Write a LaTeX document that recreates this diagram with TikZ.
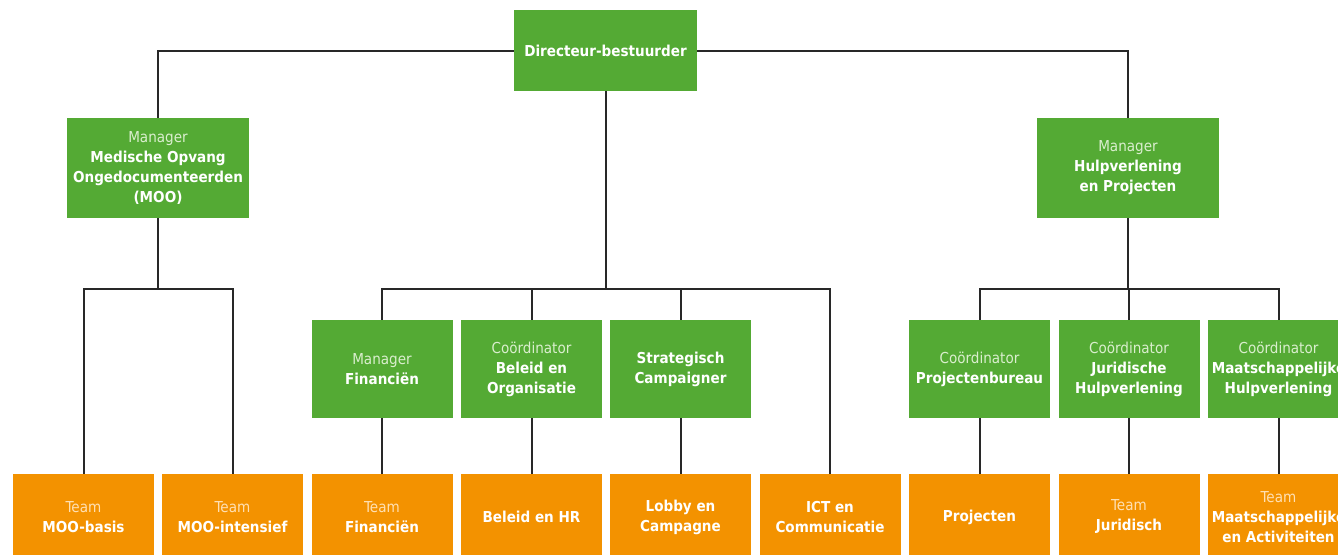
\documentclass[tikz,border=0pt]{standalone}
\usepackage{fontspec}
\setmainfont{DejaVu Sans Condensed}
\usepackage{xcolor}

\definecolor{boxgreen}{RGB}{84,170,52}
\definecolor{boxorange}{RGB}{243,146,0}
\definecolor{linegray}{RGB}{40,40,40}
\definecolor{litegreen}{RGB}{218,238,206}
\definecolor{liteorange}{RGB}{255,224,180}

\newcommand{\glite}[1]{{\mdseries\color{litegreen}#1}}
\newcommand{\olite}[1]{{\mdseries\color{liteorange}#1}}

\begin{document}
\begin{tikzpicture}[x=0.75pt,y=-0.75pt,
    every node/.style={align=center,text=white,font=\fontsize{11.3}{15}\selectfont\bfseries,inner sep=0pt},
    gbox/.style={fill=boxgreen,minimum width=105.75pt,minimum height=73.5pt},
    obox/.style={fill=boxorange,minimum width=105.75pt,minimum height=64.5pt},
    mbox/.style={fill=boxgreen,minimum width=136.5pt,minimum height=75pt},
    link/.style={draw=linegray,line width=1.5pt}]
            		\useasboundingbox (0,0) rectangle (1338,554);
            		\clip (0,0) rectangle (1338,554);

            		% top levels
            		\node (dir) at (605.5,50.5) [fill=boxgreen,minimum width=137.25pt,minimum height=60.75pt] {Directeur-bestuurder};
            		\node (moo) at (158,168) [mbox] {\glite{Manager}\\Medische Opvang\\Ongedocumenteerden\\(MOO)};
            		\node (hulp) at (1128,168) [mbox] {\glite{Manager}\\Hulpverlening\\en Projecten};

            		% middle row
            		\node (mfin) at (382,369) [gbox] {\glite{Manager}\\Financiën};
            		\node (cbel) at (531.5,369) [gbox] {\glite{Coördinator}\\Beleid en\\Organisatie};
            		\node (scamp) at (680.5,369) [gbox] {Strategisch\\Campaigner};
            		\node (cproj) at (979.5,369) [gbox] {\glite{Coördinator}\\Projectenbureau};
            		\node (cjur) at (1129,369) [gbox] {\glite{Coördinator}\\Juridische\\Hulpverlening};
            		\node (cmaat) at (1278.5,369) [gbox] {\glite{Coördinator}\\Maatschappelijke\\Hulpverlening};

            		% teams
            		\node (tbasis) at (83.5,517) [obox] {\olite{Team}\\MOO-basis};
            		\node (tint) at (232.5,517) [obox] {\olite{Team}\\MOO-intensief};
            		\node (tfin) at (382,517) [obox] {\olite{Team}\\Financiën};
            		\node (tbhr) at (531.5,517) [obox] {Beleid en HR};
            		\node (tlob) at (680.5,517) [obox] {Lobby en\\Campagne};
            		\node (tict) at (830,517) [obox] {ICT en\\Communicatie};
            		\node (tproj) at (979.5,517) [obox] {Projecten};
            		\node (tjur) at (1129,517) [obox] {\olite{Team}\\Juridisch};
            		\node (tmaat) at (1278.5,517) [obox] {\olite{Team}\\Maatschappelijke\\en Activiteiten};

            		\coordinate (mooj) at (158,289);
            		\coordinate (dirj) at (605.5,289);
            		\coordinate (hulpj) at (1128,289);

            		\draw [link] (dir.west) -| (moo.north) (dir.east) -| (hulp.north);
            		\draw [link] (moo.south) -- (mooj) (tbasis.north) |- (mooj) -| (tint.north);
            		\draw [link] (dir.south) -- (dirj) (mfin.north) |- (dirj) -| (tict.north);
            		\draw [link] (cbel.north) -- (cbel.north |- dirj) (scamp.north) -- (scamp.north |- dirj);
            		\draw [link] (hulp.south) -- (hulpj) (cproj.north) |- (hulpj) -| (cmaat.north) (cjur.north) -- (cjur.north |- hulpj);
            		\draw [link] (mfin) -- (tfin) (cbel) -- (tbhr) (scamp) -- (tlob);
            		\draw [link] (cproj) -- (tproj) (cjur) -- (tjur) (cmaat) -- (tmaat);

        		\end{tikzpicture}
\end{document}
